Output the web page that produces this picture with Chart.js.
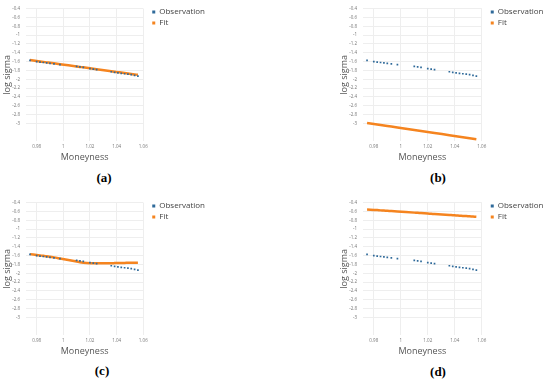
<!DOCTYPE html>
<html>
<head>
<meta charset="utf-8">
<script src="https://cdn.jsdelivr.net/npm/chart.js@4.4.1/dist/chart.umd.min.js"></script>
<style>
  html, body { margin: 0; padding: 0; background: #fff; }
  body { width: 550px; height: 380px; position: relative; overflow: hidden; }
  .panel { position: absolute; }
  .cap {
    position: absolute; width: 40px; text-align: center; line-height: 16px;
    font: bold 13px "Liberation Serif", "DejaVu Serif", serif; color: #000;
  }
</style>
</head>
<body>
<div class="panel" style="left:0px;top:0px"><canvas id="chart-a" width="215" height="165"></canvas></div>
<div class="panel" style="left:337px;top:0px"><canvas id="chart-b" width="217" height="165"></canvas></div>
<div class="panel" style="left:0px;top:194px"><canvas id="chart-c" width="215" height="165"></canvas></div>
<div class="panel" style="left:337px;top:194px"><canvas id="chart-d" width="217" height="165"></canvas></div>

<div class="cap" style="left:84px;top:170px">(a)</div>
<div class="cap" style="left:418px;top:170px">(b)</div>
<div class="cap" style="left:82px;top:363px">(c)</div>
<div class="cap" style="left:418px;top:364px">(d)</div>

<script>
// Moneyness of each observed option
const moneyness = [0.975, 0.980, 0.9825, 0.985, 0.9875, 0.990, 0.993, 0.9975,
    1.010, 1.0125, 1.015, 1.020, 1.0225, 1.025,
    1.036, 1.0385, 1.041, 1.0435, 1.046, 1.0485, 1.051, 1.0535, 1.056];

// Observed log sigma (same in every panel)
const observed = [-1.57, -1.60, -1.61, -1.62, -1.63, -1.64, -1.65, -1.67,
    -1.71, -1.72, -1.73, -1.76, -1.77, -1.78,
    -1.83, -1.845, -1.855, -1.865, -1.875, -1.885, -1.895, -1.91, -1.93];

// Fitted log sigma per panel
const fitA = [-1.565, -1.586, -1.596, -1.606, -1.617, -1.627, -1.639, -1.658,
    -1.710, -1.720, -1.730, -1.751, -1.761, -1.772,
    -1.817, -1.828, -1.838, -1.848, -1.859, -1.869, -1.879, -1.890, -1.900];
const fitB = [-2.990, -3.013, -3.024, -3.036, -3.047, -3.059, -3.072, -3.093,
    -3.150, -3.161, -3.173, -3.196, -3.207, -3.218,
    -3.269, -3.280, -3.292, -3.303, -3.314, -3.326, -3.337, -3.349, -3.360];
const fitC = [-1.566, -1.585, -1.595, -1.605, -1.615, -1.627, -1.640, -1.665,
    -1.735, -1.750, -1.760, -1.772, -1.774, -1.775,
    -1.772, -1.770, -1.768, -1.766, -1.765, -1.764, -1.763, -1.762, -1.762];
const fitD = [-0.553, -0.563, -0.568, -0.574, -0.579, -0.584, -0.590, -0.599,
    -0.625, -0.630, -0.635, -0.646, -0.651, -0.656,
    -0.679, -0.684, -0.689, -0.694, -0.699, -0.704, -0.710, -0.715, -0.720];

const xTicks = [0.98, 1, 1.02, 1.04, 1.06];
const yTicks = [-0.4, -0.6, -0.8, -1, -1.2, -1.4, -1.6, -1.8, -2, -2.2, -2.4, -2.6, -2.8, -3];

const OBS_COLOR = '#2f6a9a';
const FIT_COLOR = '#f5841f';
const TEXT_COLOR = '#555';

// Nudge the legend away from the plot area and widen its box so labels are not clipped
const legendNudge = {
    id: 'legendNudge',
    afterLayout: function(chart) {
        const legend = chart.legend;
        if (!legend) return;
        legend.left += 6;
        legend.right += 30;
        legend.width += 24;
        legend.top -= 2;
        legend.bottom -= 2;
    }
};

/**
 * One panel: observed points plus a fitted curve
 */
function createFitChart(canvasId, fitValues) {
    const canvas = document.getElementById(canvasId);
    if (!canvas) return;

    const ctx = canvas.getContext('2d');

    new Chart(ctx, {
        type: 'scatter',
        data: {
            datasets: [
                {
                    label: 'Observation',
                    data: moneyness.map((m, i) => ({ x: m, y: observed[i] })),
                    backgroundColor: OBS_COLOR,
                    borderColor: OBS_COLOR,
                    borderWidth: 0,
                    pointStyle: 'rect',
                    pointRadius: 1.2
                },
                {
                    label: 'Fit',
                    data: moneyness.map((m, i) => ({ x: m, y: fitValues[i] })),
                    showLine: true,
                    backgroundColor: FIT_COLOR,
                    borderColor: FIT_COLOR,
                    borderWidth: 2.5,
                    pointRadius: 0,
                    tension: 0.3
                }
            ]
        },
        options: {
            responsive: false,
            animation: false,
            layout: {
                padding: { left: 0, top: 7, right: 24, bottom: 2 }
            },
            scales: {
                x: {
                    type: 'linear',
                    min: 0.972,
                    max: 1.06,
                    afterBuildTicks: function(scale) {
                        scale.ticks = xTicks.map(v => ({ value: v }));
                    },
                    afterFit: function(scale) {
                        scale.height = 22;
                    },
                    border: { display: false },
                    grid: { color: '#eeeeee', drawTicks: false },
                    ticks: {
                        padding: 3,
                        color: '#777',
                        font: { size: 4.5, family: 'Open Sans' },
                        callback: function(value) {
                            return String(value);
                        }
                    },
                    title: {
                        display: true,
                        text: 'Moneyness',
                        color: TEXT_COLOR,
                        padding: 0,
                        font: { size: 9, family: 'Open Sans' }
                    }
                },
                y: {
                    min: -3.4,
                    max: -0.4,
                    afterBuildTicks: function(scale) {
                        scale.ticks = yTicks.map(v => ({ value: v }));
                    },
                    afterFit: function(scale) {
                        scale.width = 26;
                    },
                    border: { display: false },
                    grid: { color: '#eeeeee', drawTicks: false },
                    ticks: {
                        padding: 6,
                        color: '#777',
                        font: { size: 4.5, family: 'Open Sans' },
                        callback: function(value) {
                            return String(value);
                        }
                    },
                    title: {
                        display: true,
                        text: 'log sigma',
                        color: TEXT_COLOR,
                        padding: 2,
                        font: { size: 9, family: 'Open Sans' }
                    }
                }
            },
            plugins: {
                legend: {
                    position: 'right',
                    align: 'start',
                    labels: {
                        usePointStyle: true,
                        pointStyle: 'rect',
                        boxWidth: 3,
                        boxHeight: 3,
                        padding: 3,
                        color: '#444',
                        font: { size: 8, family: 'Open Sans' },
                        generateLabels: function(chart) {
                            const items = Chart.defaults.plugins.legend.labels.generateLabels(chart);
                            items.forEach(item => { item.lineWidth = 0; });
                            return items;
                        }
                    }
                },
                tooltip: { enabled: false }
            }
        },
        plugins: [legendNudge]
    });
}

createFitChart('chart-a', fitA);
createFitChart('chart-b', fitB);
createFitChart('chart-c', fitC);
createFitChart('chart-d', fitD);
</script>
</body>
</html>
